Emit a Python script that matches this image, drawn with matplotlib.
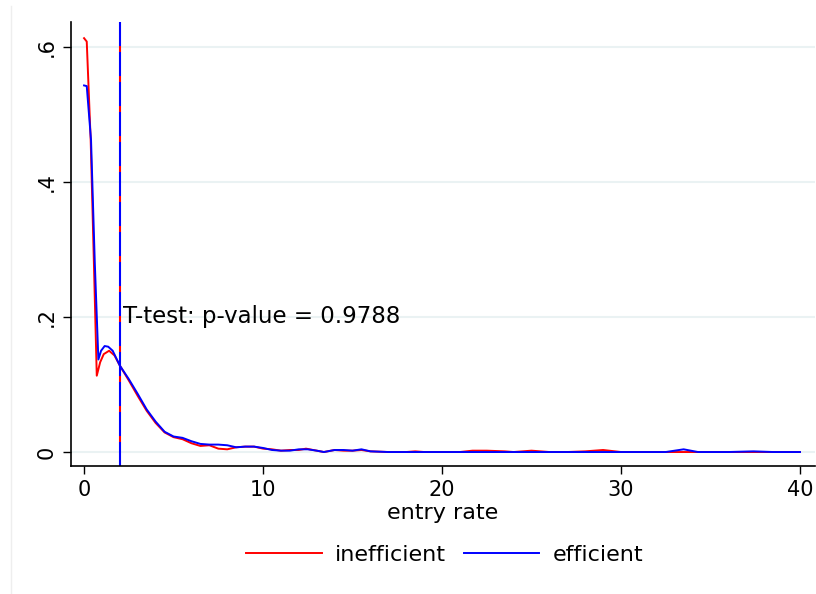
import matplotlib
matplotlib.use("Agg")
import matplotlib.pyplot as plt
from matplotlib.lines import Line2D

# entry rate grid and kernel densities
x_ineff = [0.0, 0.15, 0.37, 0.55, 0.71, 0.9, 1.1, 1.4, 1.7, 2.0, 2.5, 3.0, 3.5, 4.0,
           4.5, 5.0, 5.5, 6.0, 6.5, 7.0, 7.5, 8.0, 8.5, 9.0, 9.5, 10.0, 10.5, 11.0,
           11.5, 12.0, 12.4, 13.0, 13.4, 14.0, 14.5, 15.0, 15.5, 16.0, 17.0, 18.0,
           18.5, 19.0, 20.0, 21.0, 21.7, 22.5, 23.5, 24.0, 25.0, 26.0, 27.0, 28.0,
           29.0, 30.0, 32.0, 34.0, 36.0, 38.0, 40.0]
y_ineff = [0.613, 0.608, 0.462, 0.28, 0.113, 0.133, 0.145, 0.150, 0.143, 0.128,
           0.106, 0.083, 0.061, 0.043, 0.029, 0.022, 0.019, 0.013, 0.009, 0.010,
           0.005, 0.004, 0.007, 0.008, 0.008, 0.005, 0.004, 0.002, 0.003, 0.003,
           0.005, 0.002, 0.000, 0.003, 0.002, 0.002, 0.003, 0.001, 0.000, 0.000,
           0.001, 0.000, 0.000, 0.000, 0.002, 0.002, 0.001, 0.000, 0.002, 0.000,
           0.000, 0.001, 0.003, 0.000, 0.000, 0.000, 0.000, 0.000, 0.000]

x_eff = [0.0, 0.15, 0.39, 0.6, 0.8, 0.95, 1.15, 1.35, 1.6, 2.0, 2.5, 3.0, 3.5, 4.0,
         4.5, 5.0, 5.5, 6.0, 6.5, 7.0, 7.5, 8.0, 8.5, 9.0, 9.5, 10.0, 10.5, 11.0,
         11.5, 12.0, 12.5, 13.0, 13.4, 14.0, 14.5, 15.0, 15.5, 16.0, 17.0, 20.0,
         25.0, 30.0, 32.5, 33.5, 34.3, 36.0, 37.4, 38.5, 40.0]
y_eff = [0.543, 0.542, 0.462, 0.28, 0.137, 0.150, 0.157, 0.156, 0.150, 0.128,
         0.108, 0.086, 0.063, 0.045, 0.030, 0.023, 0.021, 0.016, 0.012, 0.011,
         0.011, 0.010, 0.007, 0.008, 0.008, 0.006, 0.003, 0.002, 0.002, 0.004,
         0.004, 0.002, 0.000, 0.003, 0.003, 0.002, 0.004, 0.001, 0.000, 0.000,
         0.000, 0.000, 0.000, 0.004, 0.000, 0.000, 0.001, 0.000, 0.000]

cutoff = 2.0
p_value = 0.9788
x_ticks = [0, 10, 20, 30, 40]
y_ticks = [0, 0.2, 0.4, 0.6]
y_ticklabels = ["0", ".2", ".4", ".6"]

plt.rcParams["lines.scale_dashes"] = False

fig = plt.figure(figsize=(8.16, 5.94), dpi=100)
ax = fig.add_axes([0.087, 0.2155, 0.9118, 0.7475])

# faint outer border on the left like stata draws
fig.add_artist(Line2D([0.013, 0.013], [0.0, 0.99], transform=fig.transFigure,
                      color="#eeeeee", lw=1))

for yt in y_ticks:
    ax.axhline(yt, color="#eaf2f3", lw=1.5, zorder=0)

ax.plot(x_ineff, y_ineff, color="red", lw=1.4, label="inefficient")
ax.plot(x_eff, y_eff, color="blue", lw=1.4, label="efficient")

# both groups share the same cutoff: red shows through the gaps of the blue one
ax.axvline(cutoff, color="red", lw=1.5, linestyle=(4.3, (4.3, 17.3)))
ax.axvline(cutoff, color="blue", lw=1.5, dashes=(17.3, 4.3))

ax.text(cutoff + 0.15, 0.2, "T-test: p-value = %.4f" % p_value,
        fontsize=16.5, va="center", ha="left")

ax.set_xlim(-0.73, 40.84)
ax.set_ylim(-0.0207, 0.637)
ax.set_xticks(x_ticks)
ax.set_yticks(y_ticks)
ax.set_yticklabels(y_ticklabels, rotation=90, va="center")
ax.tick_params(labelsize=15, length=6, width=1, direction="out", pad=4)
ax.set_xlabel("entry rate", fontsize=16, labelpad=2)

for s in ["top", "right"]:
    ax.spines[s].set_visible(False)
for s in ["left", "bottom"]:
    ax.spines[s].set_linewidth(1.2)

fig.legend(loc="center", bbox_to_anchor=(0.545, 0.066), ncol=2, frameon=False,
           fontsize=16, handlelength=3.4, handletextpad=0.6, columnspacing=0.8)

fig.savefig("out.png", dpi=100)
